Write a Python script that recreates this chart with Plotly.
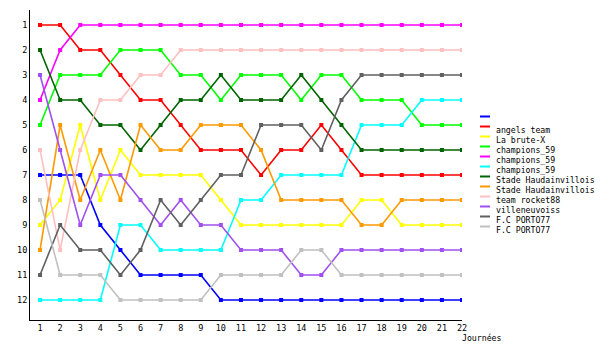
import plotly.graph_objects as go

days = list(range(1, 23))
day_labels = [str(d) for d in days]
rank_ticks = list(range(1, 13))

names = ["", "angels team", "La brute-X", "champions_59", "champions_59", "champions_59",
         "Stade Haudainvillois", "Stade Haudainvillois", "team rocket88", "villeneuvoiss",
         "F.C PORTO77", "F.C PORTO77"]
colors = ["#0000ff", "#ff0000", "#ffff00", "#00ff00", "#ff00ff", "#00ffff",
          "#006400", "#ff9900", "#ffc0c0", "#a050f0", "#606060", "#c0c0c0"]

blue = [7, 7, 7, 9, 10, 11, 11, 11, 11, 12, 12, 12, 12, 12, 12, 12, 12, 12, 12, 12, 12, 12]
red = [1, 1, 2, 2, 3, 4, 4, 5, 6, 6, 6, 7, 6, 6, 5, 6, 7, 7, 7, 7, 7, 7]
yellow = [9, 8, 5, 8, 6, 7, 7, 7, 7, 8, 9, 9, 9, 9, 9, 9, 8, 8, 9, 9, 9, 9]
lime = [5, 3, 3, 3, 2, 2, 2, 3, 3, 4, 3, 3, 3, 4, 3, 3, 4, 4, 4, 5, 5, 5]
magenta = [4, 2, 1, 1, 1, 1, 1, 1, 1, 1, 1, 1, 1, 1, 1, 1, 1, 1, 1, 1, 1, 1]
cyan = [12, 12, 12, 12, 9, 9, 10, 10, 10, 10, 8, 8, 7, 7, 7, 7, 5, 5, 5, 4, 4, 4]
darkgreen = [2, 4, 4, 5, 5, 6, 5, 4, 4, 3, 4, 4, 4, 3, 4, 5, 6, 6, 6, 6, 6, 6]
orange = [10, 5, 8, 6, 8, 5, 6, 6, 5, 5, 5, 6, 8, 8, 8, 8, 9, 9, 8, 8, 8, 8]
pink = [6, 10, 6, 4, 4, 3, 3, 2, 2, 2, 2, 2, 2, 2, 2, 2, 2, 2, 2, 2, 2, 2]
purple = [3, 6, 9, 7, 7, 8, 9, 8, 9, 9, 10, 10, 10, 11, 11, 10, 10, 10, 10, 10, 10, 10]
darkgray = [11, 9, 10, 10, 11, 10, 8, 9, 8, 7, 7, 5, 5, 5, 6, 4, 3, 3, 3, 3, 3, 3]
lightgray = [8, 11, 11, 11, 12, 12, 12, 12, 12, 11, 11, 11, 11, 10, 10, 11, 11, 11, 11, 11, 11, 11]

series = [blue, red, yellow, lime, magenta, cyan, darkgreen, orange, pink, purple, darkgray, lightgray]

FONT = "DejaVu Sans Mono"
W, H = 600, 350
L, R, T, B = 30, 138, 10, 30
pw, ph = W - L - R, H - T - B

fig = go.Figure()
for name, col, vals in zip(names, colors, series):
    fig.add_trace(go.Scatter(
        x=days, y=vals, mode="lines+markers", name=name,
        line=dict(color=col, width=1.6),
        marker=dict(symbol="square", size=4, color=col),
        showlegend=False,
    ))

# custom legend
shapes = []
annotations = []
for i, (name, col) in enumerate(zip(names, colors)):
    py = 116.5 + i * 10
    yp = (H - B - py) / ph
    shapes.append(dict(type="line", xref="paper", yref="paper",
                       x0=(480 - L) / pw, x1=(490 - L) / pw, y0=yp, y1=yp,
                       line=dict(color=col, width=2)))
    if name:
        annotations.append(dict(text=name, xref="paper", yref="paper",
                                x=(494 - L) / pw, y=(H - B - py - 3.5) / ph,
                                xanchor="left", yanchor="middle", showarrow=False,
                                font=dict(family=FONT, size=8.2, color="black")))

annotations.append(dict(text="Journées", xref="paper", yref="paper",
                        x=(460 - L) / pw, y=(H - B - 338.5) / ph,
                        xanchor="left", yanchor="middle", showarrow=False,
                        font=dict(family=FONT, size=8.2, color="black")))

fig.update_layout(
    width=W, height=H,
    margin=dict(l=L, r=R, t=T, b=B, pad=0),
    paper_bgcolor="white", plot_bgcolor="white",
    shapes=shapes, annotations=annotations,
    font=dict(family=FONT, size=8.5, color="black"),
    xaxis=dict(range=[0.5, 22], tickvals=days, ticktext=day_labels,
               showgrid=False, zeroline=False, showline=True, linecolor="black",
               linewidth=1, ticks="", ticklen=0, tickfont=dict(family=FONT, size=8.5)),
    yaxis=dict(range=[12.8, 0.4], tickvals=rank_ticks, ticktext=[str(r) for r in rank_ticks],
               showgrid=False, zeroline=False, showline=True, linecolor="black",
               linewidth=1, ticks="", ticklen=0, tickfont=dict(family=FONT, size=8.5)),
)

fig.write_html("out.html")
